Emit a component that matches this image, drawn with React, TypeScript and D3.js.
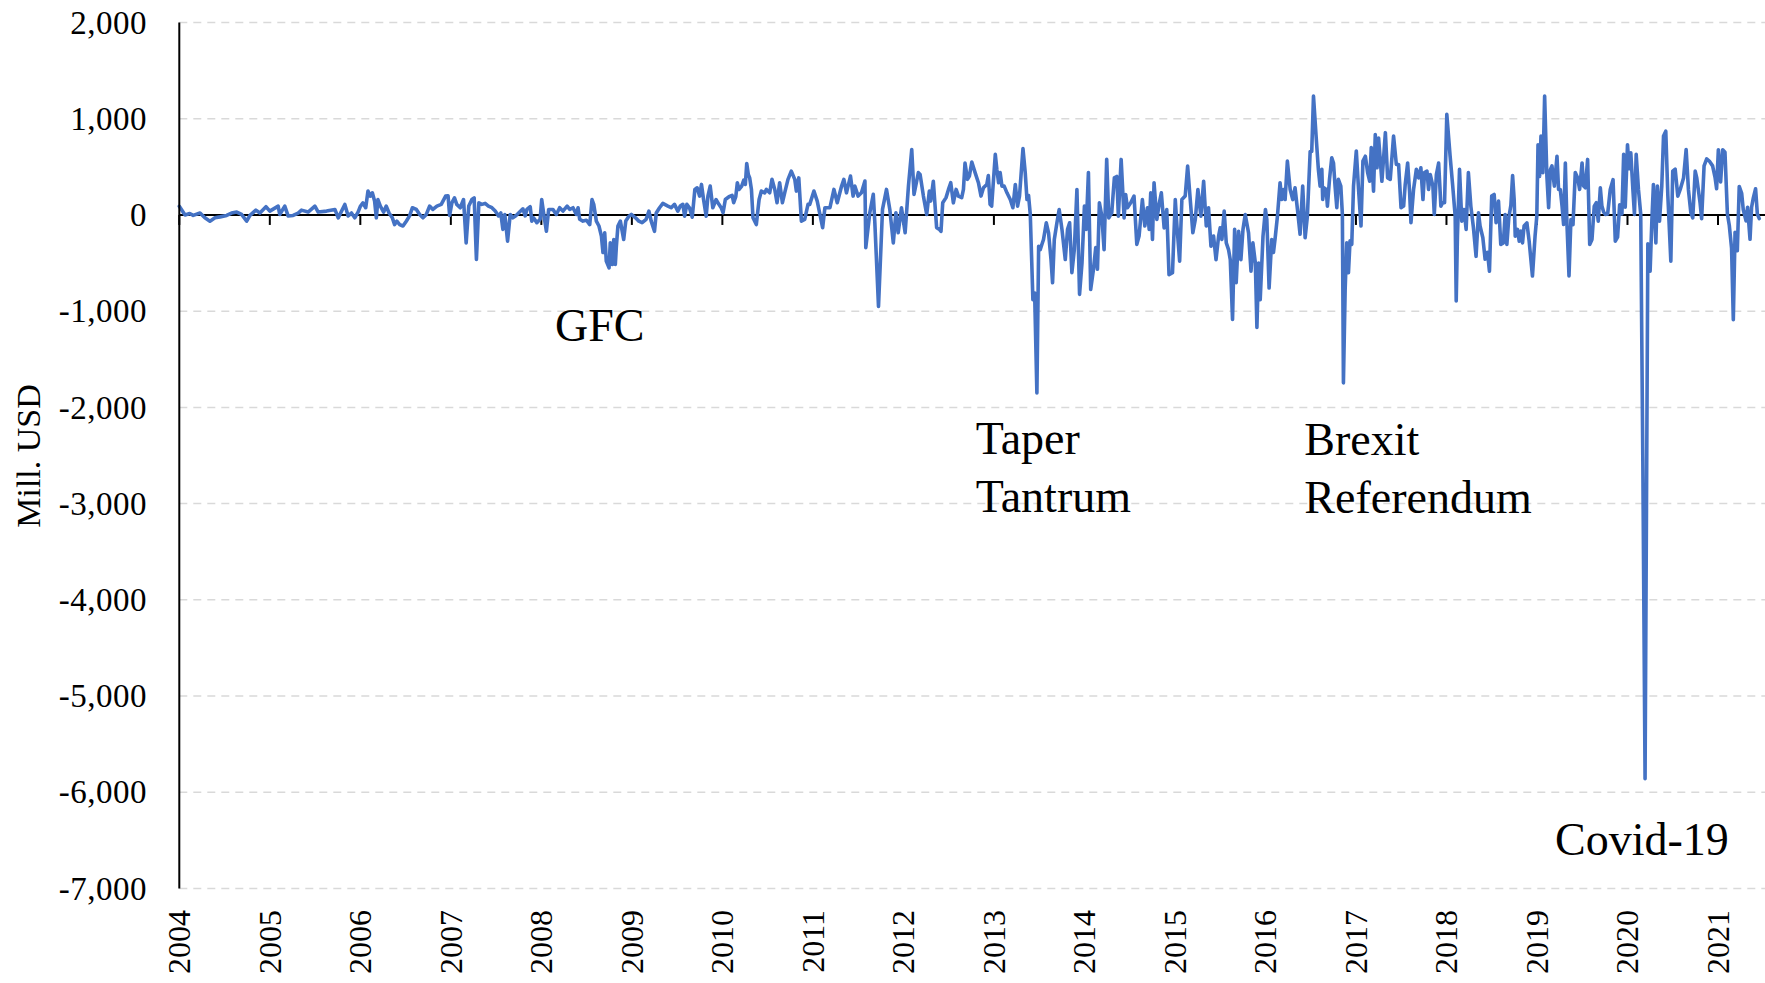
import React from "react";
import * as d3 from "d3";

// Weekly net flows (Mill. USD). Each pair: [week of year, value]
const flows2004: [number, number][] = [[0,90],[3.3,0],[6,15],[8,-5],[11.9,20],[14.7,-30],[17.6,-65],[20.5,-30],[23.4,-20],[27.2,-5],[30,20],[33,30],[35.8,5],[38.7,-65],[40.6,-5],[44,50],[46.3,20],[49.8,85]];
const flows2005: [number, number][] = [[0,40],[4.8,92],[5.7,5],[8.6,92],[10.5,-10],[13.4,-5],[16.3,20],[18.2,50],[22,30],[25.9,92],[27.8,30],[32.6,40],[37.4,57],[39.3,-30],[43.1,109],[45,-10],[46.9,20],[48.8,-30],[50.7,30]];
const flows2006: [number, number][] = [[0,90],[1.5,125],[3.1,75],[4.4,248],[5.7,195],[6.9,230],[8.2,145],[9.2,-30],[10.1,160],[11.5,92],[13.4,30],[14.9,92],[16.5,20],[18.4,-30],[19.7,-100],[21,-65],[22.6,-100],[24.5,-115],[26.4,-65],[28.3,-10],[29.9,75],[32.2,57],[34.1,5],[36,-30],[37.9,5],[39.8,92],[41.7,57],[44,92],[46.5,110],[49,196],[50.4,200],[51.3,-5]];
const flows2007: [number, number][] = [[0.6,126],[2.1,178],[3.4,110],[5.4,75],[7.3,160],[8.8,-290],[10.3,92],[12.1,160],[13.4,178],[14.7,-463],[16.1,126],[17.8,110],[19.7,120],[21.6,92],[23.6,75],[25.5,40],[27.4,-10],[28.7,20],[29.9,-150],[31,5],[32.6,-272],[34.1,5],[35.6,-30],[37.5,-5],[39.5,30],[41.4,64],[42.7,-10],[43.7,57],[45.6,85],[46.5,-64],[47.5,-30],[49.4,-80],[51.3,-45]];
const flows2008: [number, number][] = [[0.2,160],[1.3,20],[2.9,-170],[4.2,57],[6.7,57],[8.6,5],[10.5,75],[12.4,40],[14.8,92],[16.3,57],[18.2,75],[20.1,5],[21.1,75],[22,-45],[23.9,-64],[25.9,-55],[27.8,-100],[29.1,160],[30.1,110],[31.6,-64],[33.1,-115],[34.5,-220],[35.4,-390],[36.4,-185],[37.3,-480],[38.9,-550],[39.6,-290],[40.8,-515],[41.6,-255],[42.5,-515],[43.1,-325],[44,-115],[45.4,-64],[47.3,-255],[48.5,-64],[50.4,-12],[51.7,5]];
const flows2009: [number, number][] = [[2.1,-30],[4,-64],[5.9,-80],[8.2,-45],[9.8,40],[11.1,-64],[13,-170],[14,20],[15.9,75],[17.8,120],[20.7,92],[22.6,75],[24.5,110],[26.4,40],[27.8,92],[29.3,110],[30.3,-12],[31.6,110],[33.1,75],[34.7,-23],[36.2,265],[37.5,282],[38.9,196],[40,317],[41.2,160],[42.7,-12],[43.7,196],[45,300],[46.5,75],[48.4,160],[50,110],[51.3,75]];
const flows2010: [number, number][] = [[0.4,23],[1.7,160],[3.8,189],[5.6,203],[6.5,127],[7.7,189],[8.6,335],[9.6,265],[11.1,300],[12.3,362],[13.2,317],[14,535],[14.9,420],[15.7,385],[16.7,265],[17.6,-30],[19.5,-100],[21.1,160],[22.4,248],[24.3,230],[25.3,265],[27.2,230],[28.5,370],[30.1,265],[31.4,127],[32.9,335],[34.5,127],[35.8,230],[37.7,370],[39.6,455],[41.6,370],[42.5,248],[43.9,385],[45.4,-64],[47.3,-47],[49.2,110],[50.2,110]];
const flows2011: [number, number][] = [[0.6,248],[2.5,144],[5.6,-133],[6.9,75],[9.8,75],[12.1,265],[14,127],[16.5,300],[17.8,370],[19.3,230],[21.6,404],[23.1,196],[24.1,300],[26,196],[27.9,230],[29.9,352],[30.4,-340],[32.7,23],[34.7,214],[35.6,-82],[37.7,-950],[40,57],[42.3,265],[44.2,57],[46.2,-290],[47.7,23],[49,-185],[50.9,75]];
const flows2012: [number, number][] = [[1,-185],[2.9,300],[4.8,680],[6.1,214],[8.6,440],[9.6,420],[11.5,196],[13.4,5],[14.9,248],[15.7,144],[17.2,350],[19.1,-133],[20.7,-150],[21.6,-170],[22.6,126],[24.5,180],[25.9,265],[27.2,335],[28.7,126],[30.3,265],[31.6,196],[33.5,180],[34.5,265],[35.4,540],[36.8,370],[37.9,404],[39.3,550],[41.2,440],[43.1,335],[44.6,196],[46,282],[47.9,317],[48.8,410],[49.8,110],[50.7,92]];
const flows2013: [number, number][] = [[0.8,630],[1.7,472],[2.7,335],[3.6,440],[4.6,300],[5.9,300],[7.5,230],[9.4,160],[10.9,75],[12.3,317],[13.6,92],[14.7,196],[16.7,690],[18,440],[19,160],[19.9,203],[20.9,5],[22.4,-880],[23.4,-810],[24.7,-1850],[25.7,-325],[26.6,-360],[27.6,-305],[28.5,-255],[30.1,-82],[31.4,-186],[32.8,-463],[33.7,-705],[34.7,-255],[36.2,-82],[37.5,57],[39.1,-150],[41,-463],[42.3,-150],[43.5,-82],[44.8,-600],[46.2,-360],[47.7,265],[49.2,-825],[50.6,-500]];
const flows2014: [number, number][] = [[0,92],[1,-150],[2.3,440],[3.6,-775],[5.2,-565],[6.5,-340],[7.5,-565],[8.6,126],[10,-12],[11.3,-360],[12.8,577],[14,-30],[15.7,23],[17.2,385],[18.6,400],[19.5,-12],[21.1,577],[22.8,-30],[23.7,213],[24.7,75],[26.6,126],[28.5,196],[30.1,-306],[31.4,-220],[33.3,160],[34.7,-115],[36.2,75],[37.2,-150],[38.1,230],[39.1,-255],[40,335],[41.6,-47],[42.9,110],[44.2,230],[45.8,-135],[47.3,57],[48.6,-620],[50.6,-600]];
const flows2015: [number, number][] = [[0.2,160],[1.1,-100],[2.7,-480],[4,160],[5.9,196],[7.3,508],[8.8,160],[10.3,-185],[11.7,-47],[13.2,265],[14.9,-12],[16.5,350],[18,-115],[19.3,75],[20.7,-325],[22.2,-220],[23.6,-465],[25.1,-220],[26,-134],[27,-255],[28.3,40],[29.5,-290],[30.8,-360],[31.8,-465],[33.1,-1085],[34.3,-150],[35.2,-705],[36.6,-170],[37.9,-465],[39.1,-150],[40.4,5],[42.3,-186],[43.7,-585],[44.8,-290],[46.2,-500],[47.1,-1170],[48.1,-500],[49,-880],[50.6,-220]];
const flows2016: [number, number][] = [[0,57],[0.8,-47],[2.1,-760],[3.6,-255],[4.6,-390],[5.6,-237],[6.9,-12],[8.4,335],[9.4,160],[10.3,265],[11.3,160],[12.6,560],[14.2,265],[15.7,160],[17,282],[18.4,57],[19.9,-200],[21.4,300],[22.8,-237],[24.1,-12],[25.7,660],[26.6,660],[27.6,1235],[29.1,820],[30.4,475],[31.4,300],[32.4,475],[32.9,160],[33.7,282],[34.9,265],[35.6,92],[36.8,370],[38.1,595],[39.1,540],[40,300],[41,75],[41.9,370],[43.3,300],[44.2,5],[44.8,-1745],[45.8,-775],[46.7,-290],[47.7,-600],[48.6,-270],[49.6,-305],[50.6,300]];
const flows2017: [number, number][] = [[0.2,665],[1.5,265],[2.9,-115],[4,560],[5.4,610],[6.7,440],[7.9,350],[8.8,700],[10.1,248],[11.1,835],[12.1,490],[13,800],[14.9,350],[15.9,595],[16.9,855],[18.2,385],[19.7,370],[21.6,820],[23.2,525],[24.5,525],[25.9,75],[27.4,92],[28.3,317],[29.7,540],[30.8,248],[31.6,-80],[33.1,265],[34.7,475],[36,385],[37.3,490],[38.5,160],[39.4,440],[40.8,455],[41.7,265],[42.7,420],[44.2,300],[45,5],[46.2,420],[47.5,540],[48.8,92],[49.8,127],[50.9,127]];
const flows2018: [number, number][] = [[0.2,1045],[2.1,610],[3.6,300],[5,-12],[5.6,-895],[6.3,-220],[7.5,475],[8.8,-64],[10.1,57],[11.3,-150],[12.6,440],[14,92],[15.5,-134],[17,-430],[18.4,23],[19.3,-115],[20.9,-237],[22.2,-460],[23.6,-390],[24.7,-585],[26,196],[27.4,213],[28.5,-80],[29.9,144],[31.2,-306],[32.7,-290],[33.7,5],[34.7,-306],[35.8,-30],[37,100],[38,410],[38.9,160],[39.5,-220],[40.8,-150],[41.8,-272],[42.7,-168],[43.7,-290],[44.6,-115],[46.2,-82],[47.5,-272],[49.4,-635],[50.9,-220],[51.9,-12]];
const flows2019: [number, number][] = [[0.6,730],[1.5,400],[2.3,820],[3.4,440],[4.4,1235],[5.7,400],[6.7,75],[7.7,470],[8.6,510],[10,300],[11.5,610],[12.4,265],[13.4,265],[14.4,92],[15.3,-100],[16.3,540],[17.2,-80],[18.4,-635],[19.5,-47],[20.7,-100],[22,440],[23.4,385],[24.5,265],[25.9,540],[26.8,300],[27.8,282],[29.1,577],[30.3,-306],[31.6,-255],[32.9,92],[34.1,127],[35.2,-64],[36.4,282],[37.3,92],[38.3,30],[39.3,5],[40.6,10],[42.1,265],[43.7,367],[45,-272],[46.3,-230],[47.5,105],[48.8,10],[49.8,630],[50.7,80]];
const flows2020: [number, number][] = [[0,730],[1,480],[1.9,645],[3.1,265],[4,5],[5,630],[6.3,265],[7.6,10],[8.8,-2520],[10.1,-5860],[11.7,-300],[13,-585],[14,-64],[14.9,317],[16.3,-290],[17.2,300],[18.4,-64],[19.7,300],[20.7,820],[22,870],[23.2,196],[24.9,-480],[26,455],[27.4,475],[28.9,196],[30.3,265],[32.2,385],[33.7,680],[35,265],[36.4,23],[37.5,-30],[38.9,455],[39.8,385],[41.7,126],[42.6,-38],[44,510],[45.5,582],[47,560],[48.9,510],[50.3,391],[51.2,272]];
const flows2021: [number, number][] = [[0.2,678],[1.5,343],[2.7,678],[4,653],[5.4,10],[6.5,-110],[7.8,-348],[8.8,-1088],[9.8,-181],[11.1,-372],[12.2,296],[13.6,224],[14.5,57],[16.1,-62],[17,80],[18.4,-253],[19.3,80],[20.3,177],[21.6,272],[22.6,10],[23.7,-38]];

const yearlyFlows: [number, [number, number][]][] = [
  [2004, flows2004], [2005, flows2005], [2006, flows2006], [2007, flows2007],
  [2008, flows2008], [2009, flows2009], [2010, flows2010], [2011, flows2011],
  [2012, flows2012], [2013, flows2013], [2014, flows2014], [2015, flows2015],
  [2016, flows2016], [2017, flows2017], [2018, flows2018], [2019, flows2019],
  [2020, flows2020], [2021, flows2021],
];

const yearLabels = ["2004","2005","2006","2007","2008","2009","2010","2011","2012","2013","2014","2015","2016","2017","2018","2019","2020","2021"];
const yTickValues = [2000, 1000, 0, -1000, -2000, -3000, -4000, -5000, -6000, -7000];
const yAxisTitle = "Mill. USD";

const annotations: { lines: string[]; year: number; value: number }[] = [
  { lines: ["GFC"], year: 2008.15, value: -1310 },
  { lines: ["Taper", "Tantrum"], year: 2012.8, value: -2480 },
  { lines: ["Brexit", "Referendum"], year: 2016.43, value: -2490 },
  { lines: ["Covid-19"], year: 2019.2, value: -6650 },
];

const W = 1765;
const H = 983;
const FONT = "'Liberation Serif', 'Times New Roman', serif";

export default function App() {
  const x = d3.scaleLinear().domain([2004, 2021]).range([179.3, 1718]);
  const y = d3.scaleLinear().domain([-7000, 2000]).range([888.5, 22.5]);
  const data = yearlyFlows.flatMap(([yr, pts]) => pts.map(([w, v]) => ({ t: yr + w / 52, v })));
  const line = d3.line<{ t: number; v: number }>().x(d => x(d.t)).y(d => y(d.v));
  const x0 = x(2004);
  const xRight = W;
  const fmt = d3.format(",");

  return (
    <svg width={W} height={H} style={{ position: "absolute", left: 0, top: 0, background: "#fff" }} fontFamily={FONT}>
      <rect width={W} height={H} fill="#fff" />
      {yTickValues.filter(v => v !== 0).map(v => (
        <line key={v} x1={x0} x2={xRight} y1={y(v)} y2={y(v)} stroke="#d9d9d9" strokeWidth={1.5} strokeDasharray="8 6" />
      ))}
      <line x1={x0} x2={xRight} y1={y(0)} y2={y(0)} stroke="#000" strokeWidth={2} />
      {yearLabels.map((lab, i) => {
        const yr = 2004 + i;
        return <line key={lab} x1={x(yr)} x2={x(yr)} y1={y(0)} y2={y(0) + 10} stroke="#000" strokeWidth={2} />;
      })}
      <path d={line(data) || ""} fill="none" stroke="#4472C4" strokeWidth={3.6} strokeLinejoin="round" strokeLinecap="round" />
      <line x1={x0} x2={x0} y1={y(2000)} y2={y(-7000)} stroke="#000" strokeWidth={2} />
      {yTickValues.map(v => (
        <text key={v} x={147} y={y(v)} dy="0.34em" textAnchor="end" fontSize={33} fill="#000" letterSpacing={0.5}>
          {v < 0 ? "-" + fmt(-v) : fmt(v)}
        </text>
      ))}
      {yearLabels.map((lab, i) => {
        const yr = 2004 + i;
        return (
          <text key={lab} transform={`translate(${x(yr) + 11},910) rotate(-90)`} textAnchor="end" fontSize={32} fill="#000">
            {lab}
          </text>
        );
      })}
      <text transform={`translate(40,456) rotate(-90)`} textAnchor="middle" fontSize={34} fill="#000">{yAxisTitle}</text>
      {annotations.map(a => (
        <text key={a.lines[0]} x={x(a.year)} y={y(a.value)} fontSize={46} fill="#000">
          {a.lines.map((l, j) => (
            <tspan key={l} x={x(a.year)} dy={j === 0 ? 0 : 58}>{l}</tspan>
          ))}
        </text>
      ))}
    </svg>
  );
}
